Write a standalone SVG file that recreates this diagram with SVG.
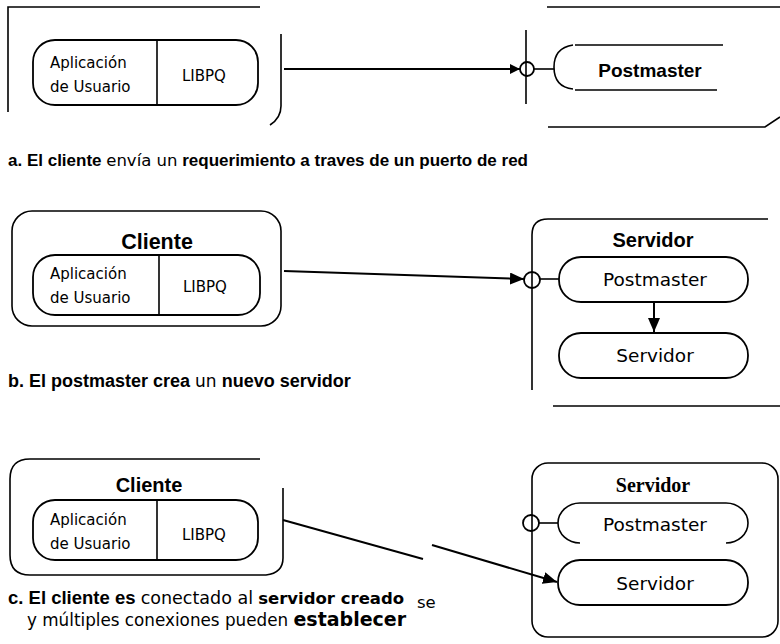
<svg xmlns="http://www.w3.org/2000/svg" width="780" height="644" viewBox="0 0 780 644">
<defs>
<style>
.fr{fill:none;stroke:#000;stroke-width:1.6}
.pl{fill:#fff;stroke:#000;stroke-width:1.8}
.ln{fill:none;stroke:#000;stroke-width:2}
.cir{fill:none;stroke:#000;stroke-width:1.8}
.lbl{font-family:"DejaVu Sans",Verdana,sans-serif;font-size:15px;fill:#000}
.big{font-family:"DejaVu Sans",Verdana,sans-serif;font-size:18.5px;fill:#000}
.ttl{font-family:"Liberation Sans",Arial,sans-serif;font-weight:bold;font-size:20px;fill:#000}
.ttls{font-family:"Liberation Serif","Times New Roman",serif;font-weight:bold;font-size:20px;fill:#000}
.cap{font-family:"Liberation Sans",Arial,sans-serif;font-weight:bold;font-size:17px;fill:#000}
.reg{font-family:"DejaVu Sans",Verdana,sans-serif;font-weight:normal;font-size:16.5px}
.dbb{font-family:"DejaVu Sans",Verdana,sans-serif;font-weight:bold;font-size:17px}
</style>
<marker id="arr" viewBox="0 0 14 12" refX="14" refY="6" markerWidth="14" markerHeight="12" markerUnits="userSpaceOnUse" orient="auto"><path d="M0,0 L14,6 L0,12 z" fill="#000"/></marker>
<marker id="arrs" viewBox="0 0 10 10" refX="10" refY="5" markerWidth="10" markerHeight="10" markerUnits="userSpaceOnUse" orient="auto"><path d="M0,0 L10,5 L0,10 z" fill="#000"/></marker>
</defs>
<rect width="780" height="644" fill="#fff"/>

<!-- Panel a -->
<g id="a-cliente">
<path class="fr" d="M8,112 V7 H260"/>
<path class="fr" d="M281,34 V106 Q281,118 270,125"/>
</g>
<g id="a-app">
<rect class="pl" x="33" y="40" width="225" height="65" rx="22"/>
<line class="fr" x1="157" y1="40" x2="157" y2="105"/>
<text class="lbl" x="50" y="68">Aplicación</text>
<text class="lbl" x="50" y="92">de Usuario</text>
<text class="lbl" x="182" y="81">LIBPQ</text>
</g>
<g id="a-servidor">
<path class="fr" d="M547,7 H780"/>
<path class="fr" d="M548,127 H765 L780,117"/>
<line class="fr" x1="526" y1="30" x2="526" y2="104"/>
<circle class="cir" cx="527" cy="69" r="7"/>
</g>
<g id="a-postmaster">
<path class="fr" d="M573,45 Q554,48 554,67 Q554,87 573,89"/>
<path class="fr" d="M575,45 H723 M575,90 H717"/>
<text class="ttl" x="650" y="77" text-anchor="middle" style="font-size:19px">Postmaster</text>
</g>
<text class="cap" x="8" y="166">a. El cliente <tspan class="reg">envía un</tspan> requerimiento a traves de un puerto de red</text>

<!-- Panel b -->
<g id="b-cliente">
<rect class="fr" x="12" y="211" width="269" height="115" rx="20"/>
<text class="ttl" x="157" y="249" text-anchor="middle" style="font-size:21.5px">Cliente</text>
</g>
<g id="b-app">
<rect class="pl" x="33" y="255" width="227" height="60" rx="22"/>
<line class="fr" x1="159" y1="255" x2="159" y2="315"/>
<text class="lbl" x="50" y="279">Aplicación</text>
<text class="lbl" x="50" y="303">de Usuario</text>
<text class="lbl" x="183" y="292">LIBPQ</text>
</g>
<g id="b-servidor">
<path class="fr" d="M532,390 V235 Q532,219 548,219 H768"/>
<path class="fr" d="M553,406 H780"/>
<text class="ttl" x="653" y="247" text-anchor="middle">Servidor</text>
<circle class="cir" cx="532" cy="280" r="8"/>
</g>
<g id="b-postmaster">
<rect class="pl" x="559" y="257" width="189" height="45" rx="22"/>
<text class="big" x="655" y="286" text-anchor="middle">Postmaster</text>
</g>
<g id="b-servidor2">
<rect class="pl" x="559" y="333" width="189" height="45" rx="22"/>
<text class="big" x="655" y="362" text-anchor="middle">Servidor</text>
</g>
<text class="cap" x="8" y="387" style="font-size:18px">b. El postmaster crea <tspan class="reg" style="font-size:17px">un</tspan> nuevo servidor</text>

<!-- Panel c -->
<g id="c-cliente">
<path class="fr" d="M260,459 H30 Q10,459 10,479 V555 Q10,575 30,575 H266 Q283,573 283,558 V488"/>
<text class="ttl" x="149" y="492" text-anchor="middle">Cliente</text>
</g>
<g id="c-app">
<rect class="pl" x="33" y="500" width="225" height="60" rx="22"/>
<line class="fr" x1="157" y1="500" x2="157" y2="560"/>
<text class="lbl" x="50" y="525">Aplicación</text>
<text class="lbl" x="50" y="549">de Usuario</text>
<text class="lbl" x="182" y="540">LIBPQ</text>
</g>
<g id="c-servidor">
<rect class="fr" x="532" y="463" width="246" height="174" rx="16"/>
<text class="ttls" x="653" y="492" text-anchor="middle">Servidor</text>
<circle class="cir" cx="531" cy="523" r="8"/>
</g>
<g id="c-postmaster">
<path class="fr" d="M580,503 H726 M580,503 A22,20 0 0 0 580,543 M726,503 A22,20 0 0 1 726,543"/>
<text class="big" x="655" y="531" text-anchor="middle">Postmaster</text>
</g>
<g id="c-servidor2">
<rect class="pl" x="558" y="560" width="190" height="45" rx="22"/>
<text class="big" x="655" y="590" text-anchor="middle">Servidor</text>
</g>
<text class="cap" x="8" y="604" style="font-size:18.5px">c. El cliente es <tspan class="reg" style="font-size:17.5px">conectado al</tspan> <tspan class="dbb" style="font-size:16.5px">servidor creado</tspan></text>
<text class="reg" x="417" y="608" style="font-size:16.5px">se</text>
<text class="reg" x="27" y="626" style="font-size:16.8px">y múltiples conexiones pueden <tspan class="dbb" style="font-size:19px">establecer</tspan></text>

<g id="connectors">
<line class="ln" x1="284" y1="69" x2="520" y2="69" marker-end="url(#arrs)"/>
<line class="fr" x1="534" y1="69" x2="554" y2="69"/>
<line class="ln" x1="284" y1="271" x2="524" y2="279" marker-end="url(#arr)"/>
<line class="fr" x1="540" y1="279" x2="559" y2="279"/>
<line class="ln" x1="654" y1="302" x2="654" y2="332" marker-end="url(#arr)"/>
<line class="ln" x1="283" y1="520" x2="423" y2="559"/>
<line class="ln" x1="432" y1="545" x2="557" y2="582" marker-end="url(#arr)"/>
<line class="fr" x1="539" y1="523" x2="558" y2="523"/>
</g>
</svg>
